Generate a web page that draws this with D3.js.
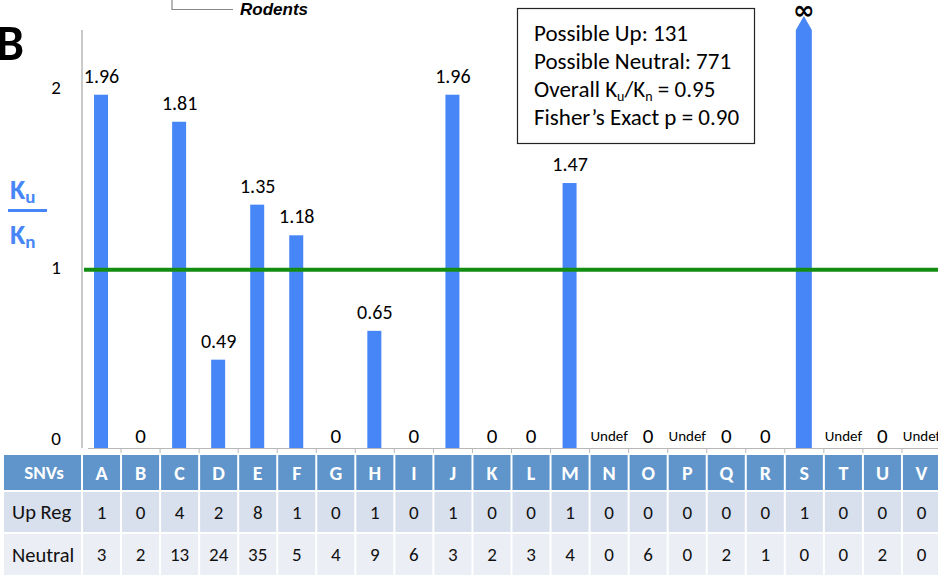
<!DOCTYPE html>
<html>
<head>
<meta charset="utf-8">
<script src="https://cdn.jsdelivr.net/npm/d3@7"></script>
<style>
  body { margin: 0; background: #fff; }
  svg { display: block; font-family: Carlito, Lato, "Open Sans", sans-serif; }
</style>
</head>
<body>
<svg width="938" height="575"></svg>
<script>
(function (d3) {
    'use strict';

    const snvs = ['A','B','C','D','E','F','G','H','I','J','K','L','M','N','O','P','Q','R','S','T','U','V'];
    const upReg = [1,0,4,2,8,1,0,1,0,1,0,0,1,0,0,0,0,0,1,0,0,0];
    const neutral = [3,2,13,24,35,5,4,9,6,3,2,3,4,0,6,0,2,1,0,0,2,0];
    // null = Undef, Infinity = ∞
    const ratio = [1.96,0,1.81,0.49,1.35,1.18,0,0.65,0,1.96,0,0,1.47,null,0,null,0,0,Infinity,null,0,null];
    const yTicks = [0, 1, 2];
    const boxLines = ['Possible Up: 131', 'Possible Neutral: 771', 'Overall K|u|/K|n| = 0.95', 'Fisher\u2019s Exact p = 0.90'];

    const svg = d3.select('svg');
    const blue = '#4786f6';

    const x = d3.scaleBand().domain(snvs).range([82, 941]);
    const y = d3.scaleLinear().domain([0, 2]).range([448, 87.5]);

    // y axis line
    svg.append('line')
        .attr('x1', 82).attr('x2', 82).attr('y1', 30).attr('y2', 448)
        .attr('stroke', '#b8b8b8').attr('stroke-width', 1.5);

    svg.append('g').selectAll('text').data(yTicks)
        .enter().append('text')
        .attr('x', 61)
        .attr('y', d => d === 0 ? y(d) - 10 : y(d))
        .attr('dy', '0.35em')
        .attr('text-anchor', 'end')
        .attr('font-size', 19)
        .text(d => d);

    // x baseline with ticks
    svg.append('line')
        .attr('x1', 88).attr('x2', 938).attr('y1', 448.5).attr('y2', 448.5)
        .attr('stroke', '#b8b8b8').attr('stroke-width', 1);
    svg.append('g').selectAll('line').data(snvs.slice(1))
        .enter().append('line')
        .attr('x1', d => x(d)).attr('x2', d => x(d))
        .attr('y1', 448).attr('y2', 453)
        .attr('stroke', '#b8b8b8');

    // bars
    const barW = 14;
    const finite = snvs.map((s, i) => ({s, v: ratio[i]}));
    svg.append('g').selectAll('rect')
        .data(finite.filter(d => d.v !== null && isFinite(d.v) && d.v > 0))
        .enter().append('rect')
        .attr('x', d => x(d.s) + x.bandwidth() / 2 - barW / 2 - 0.5)
        .attr('y', d => y(d.v))
        .attr('width', barW)
        .attr('height', d => y(0) - y(d.v))
        .attr('fill', blue);

    // infinite bar as arrow
    finite.filter(d => d.v === Infinity).forEach(d => {
        const cx = x(d.s) + x.bandwidth() / 2 - 0.5;
        svg.append('path')
            .attr('d', `M${cx - 8},${y(0)} L${cx - 8},30 L${cx},16 L${cx + 8},30 L${cx + 8},${y(0)} Z`)
            .attr('fill', blue);
        svg.append('text')
            .attr('x', cx).attr('y', 19)
            .attr('text-anchor', 'middle')
            .attr('font-size', 26)
            .attr('font-weight', 'bold')
            .attr('font-family', '"DejaVu Sans", sans-serif')
            .text('\u221e');
    });

    // value labels
    svg.append('g').selectAll('text')
        .data(finite.filter(d => d.v !== Infinity))
        .enter().append('text')
        .attr('x', d => x(d.s) + x.bandwidth() / 2)
        .attr('y', d => d.v === null ? 441 : (d.v === 0 ? 443 : y(d.v) - 12))
        .attr('text-anchor', 'middle')
        .attr('font-size', d => d.v === null ? 15 : (d.v === 0 ? 21 : 20))
        .text(d => d.v === null ? 'Undef' : (d.v === 0 ? '0' : d3.format('.2f')(d.v)));

    // reference line at 1
    svg.append('line')
        .attr('x1', 84).attr('x2', 938).attr('y1', y(1) + 2).attr('y2', y(1) + 2)
        .attr('stroke', '#138c12').attr('stroke-width', 4);

    // Ku / Kn label
    const yl = svg.append('g').attr('fill', blue).attr('font-weight', 'bold');
    yl.append('text').attr('x', 10).attr('y', 199).attr('font-size', 28).text('K')
        .append('tspan').attr('font-size', 19).attr('dy', 4).text('u');
    yl.append('rect').attr('x', 8).attr('y', 209).attr('width', 39).attr('height', 3);
    yl.append('text').attr('x', 10).attr('y', 244).attr('font-size', 28).text('K')
        .append('tspan').attr('font-size', 19).attr('dy', 4).text('n');

    // panel letter
    svg.append('text')
        .attr('x', -4).attr('y', 60)
        .attr('font-size', 50)
        .attr('font-weight', 'bold')
        .text('B');

    // Rodents bracket
    svg.append('path')
        .attr('d', 'M172,0 L172,9.5 L233,9.5')
        .attr('fill', 'none').attr('stroke', '#888').attr('stroke-width', 1.2);
    svg.append('text')
        .attr('x', 240).attr('y', 15)
        .attr('font-size', 17)
        .attr('font-weight', 'bold')
        .attr('font-style', 'italic')
        .attr('font-family', '"Liberation Sans Narrow", "Liberation Sans", sans-serif')
        .text('Rodents');

    // stats box
    svg.append('rect')
        .attr('x', 517.5).attr('y', 8.5).attr('width', 237).attr('height', 135)
        .attr('fill', '#fff').attr('stroke', '#222').attr('stroke-width', 1.2);
    const bl = svg.append('g').attr('font-size', 23);
    boxLines.forEach((line, i) => {
        const t = bl.append('text').attr('x', 534).attr('y', 41 + i * 28);
        line.split('|').forEach((part, j) => {
            const ts = t.append('tspan').text(part);
            if (j % 2 === 1) ts.attr('font-size', 14).attr('dy', 4);
            else if (j > 0) ts.attr('dy', -4);
        });
    });

    // table
    const rows = [
        {label: 'SNVs', vals: snvs, fill: '#5f95cb', y: 455, h: 35, head: true},
        {label: 'Up Reg', vals: upReg, fill: '#d8dfed', y: 492, h: 40},
        {label: 'Neutral', vals: neutral, fill: '#ebeef5', y: 534, h: 41}
    ];
    const tg = svg.append('g');
    rows.forEach(r => {
        tg.append('rect')
            .attr('x', 4).attr('y', r.y).attr('width', x.range()[0] - 5).attr('height', r.h)
            .attr('fill', r.fill);
        tg.append('text')
            .attr('x', r.head ? 44 : 12).attr('y', r.y + r.h / 2)
            .attr('dy', '0.35em')
            .attr('text-anchor', r.head ? 'middle' : 'start')
            .attr('font-size', r.head ? 19 : 20.5)
            .attr('font-weight', r.head ? 'bold' : 'normal')
            .attr('fill', r.head ? '#fff' : '#111')
            .text(r.label);
        tg.append('g').selectAll('rect').data(snvs)
            .enter().append('rect')
            .attr('x', d => x(d) + 1)
            .attr('y', r.y)
            .attr('width', x.bandwidth() - 2)
            .attr('height', r.h)
            .attr('fill', r.fill);
        tg.append('g').selectAll('text').data(snvs)
            .enter().append('text')
            .attr('x', d => x(d) + x.bandwidth() / 2)
            .attr('y', r.y + r.h / 2)
            .attr('dy', '0.35em')
            .attr('text-anchor', 'middle')
            .attr('font-size', r.head ? 20 : 19)
            .attr('font-weight', r.head ? 'bold' : 'normal')
            .attr('fill', r.head ? '#fff' : '#111')
            .text((d, i) => r.vals[i]);
    });
}(d3));
</script>
</body>
</html>
